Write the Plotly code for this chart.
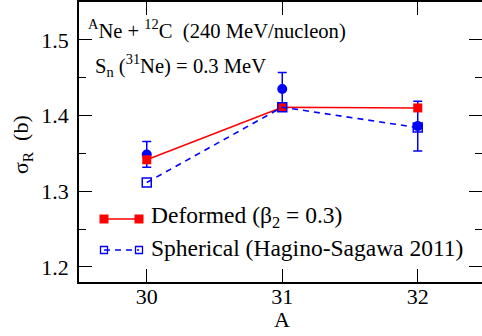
import plotly.graph_objects as go

# ---- data ----
A_vals = [30, 31, 32]
deformed = [1.3415, 1.411, 1.410]
spherical = [1.3115, 1.411, 1.384]
expt = [1.3485, 1.435, 1.386]
expt_err = [0.017, 0.022, 0.033]
x_ticks = [30, 31, 32]
y_ticks = [1.2, 1.3, 1.4, 1.5]

W, H = 482, 336
L, R, T, B = 79, 0, 2, 54
PW, PH = W - L - R, H - T - B
FONT = "'Liberation Serif', 'Times New Roman', Times, serif"
RED = "#ff0000"
BLUE = "#0000ff"


def px(x):
    return (x - L) / PW


def py(y):
    return (H - B - y) / PH


fig = go.Figure()

fig.add_trace(go.Scatter(
    x=A_vals, y=expt, mode="markers",
    marker=dict(symbol="circle", size=10, color=BLUE),
    error_y=dict(type="data", array=expt_err, visible=True,
                 color=BLUE, thickness=1.5, width=4.5),
    showlegend=False, hoverinfo="skip"))

fig.add_trace(go.Scatter(
    x=A_vals, y=deformed, mode="lines+markers",
    line=dict(color=RED, width=1.6),
    marker=dict(symbol="square", size=9, color=RED),
    showlegend=False, hoverinfo="skip"))

fig.add_trace(go.Scatter(
    x=A_vals, y=spherical, mode="lines+markers",
    line=dict(color=BLUE, width=1.6, dash="6px,5px"),
    marker=dict(symbol="square-open", size=9, color=BLUE, line=dict(width=1.5, color=BLUE)),
    showlegend=False, hoverinfo="skip"))

# invisible trace to bind right-side tick axis
fig.add_trace(go.Scatter(x=[30], y=[1.3], yaxis="y2", mode="markers",
                         marker=dict(opacity=0), showlegend=False, hoverinfo="skip"))

xr = [29.5, 29.5 + PW / 135.5]
yr = [1.18, 1.55]

fig.update_layout(
    width=W, height=H,
    margin=dict(l=L, r=R, t=T, b=B),
    paper_bgcolor="white", plot_bgcolor="white",
    font=dict(family=FONT, color="black"),
    xaxis=dict(range=xr, tickvals=x_ticks, ticks="inside", ticklen=13, tickwidth=1.3,
               tickcolor="black", showline=True, linecolor="black", linewidth=1.5,
               mirror="ticks", showgrid=False, zeroline=False,
               tickfont=dict(family=FONT, size=22), ticklabelstandoff=-6),
    yaxis=dict(range=yr, tickvals=y_ticks, ticktext=[str(v) for v in y_ticks],
               ticks="inside", ticklen=13, tickwidth=1.3, tickcolor="black",
               showline=True, linecolor="black", linewidth=1.5, mirror=False,
               showgrid=False, zeroline=False,
               minor=dict(ticks="inside", ticklen=7, dtick=0.05, tick0=1.2,
                          tickcolor="black", tickwidth=1.3, showgrid=False),
               tickfont=dict(family=FONT, size=22), ticklabelstandoff=4),
    yaxis2=dict(range=yr, overlaying="y", side="right", anchor="x",
                tickvals=y_ticks, ticks="inside", ticklen=13, tickwidth=1.3,
                tickcolor="black", showticklabels=False, showline=False,
                showgrid=False, zeroline=False,
                minor=dict(ticks="inside", ticklen=7, dtick=0.05, tick0=1.2,
                           tickcolor="black", tickwidth=1.3, showgrid=False)),
)

ann = []
# axis titles
ann.append(dict(text="A", x=px(282), y=py(319), xref="paper", yref="paper",
                xanchor="center", yanchor="middle", showarrow=False,
                font=dict(family=FONT, size=22)))
ann.append(dict(text="σ<sub>R</sub>  (b)", x=px(22), y=py(145), xref="paper", yref="paper",
                xanchor="center", yanchor="middle", showarrow=False, textangle=-90,
                font=dict(family=FONT, size=22)))
# in-plot labels
ann.append(dict(text="<sup>A</sup>Ne + <sup>12</sup>C  (240 MeV/nucleon)",
                x=px(86), y=py(30), xref="paper", yref="paper",
                xanchor="left", yanchor="middle", showarrow=False,
                font=dict(family=FONT, size=20.6)))
ann.append(dict(text="S<sub>n</sub> (<sup>31</sup>Ne) = 0.3 MeV",
                x=px(93), y=py(65), xref="paper", yref="paper",
                xanchor="left", yanchor="middle", showarrow=False,
                font=dict(family=FONT, size=20.6)))
# legend labels
ann.append(dict(text="Deformed (β<sub>2</sub> = 0.3)",
                x=px(149), y=py(217), xref="paper", yref="paper",
                xanchor="left", yanchor="middle", showarrow=False,
                font=dict(family=FONT, size=23.5)))
ann.append(dict(text="Spherical (Hagino-Sagawa 2011)",
                x=px(149), y=py(248), xref="paper", yref="paper",
                xanchor="left", yanchor="middle", showarrow=False,
                font=dict(family=FONT, size=23.5)))
fig.update_layout(annotations=ann)

# legend keys
shapes = []
ky1, ky2 = 219, 250
x1, x2 = 104, 139
shapes.append(dict(type="line", xref="paper", yref="paper",
                   x0=px(x1), x1=px(x2), y0=py(ky1), y1=py(ky1),
                   line=dict(color=RED, width=1.6)))
for xc in (x1, x2):
    shapes.append(dict(type="rect", xref="paper", yref="paper",
                       x0=px(xc - 4.5), x1=px(xc + 4.5), y0=py(ky1 + 4.5), y1=py(ky1 - 4.5),
                       fillcolor=RED, line=dict(width=0)))
shapes.append(dict(type="line", xref="paper", yref="paper",
                   x0=px(x1), x1=px(x2), y0=py(ky2), y1=py(ky2),
                   line=dict(color=BLUE, width=1.6, dash="6px,5px")))
for xc in (x1, x2):
    shapes.append(dict(type="rect", xref="paper", yref="paper",
                       x0=px(xc - 3.5), x1=px(xc + 3.5), y0=py(ky2 + 3.5), y1=py(ky2 - 3.5),
                       fillcolor="rgba(0,0,0,0)", line=dict(color=BLUE, width=1.3)))
fig.update_layout(shapes=shapes)

fig.write_html("out.html")
